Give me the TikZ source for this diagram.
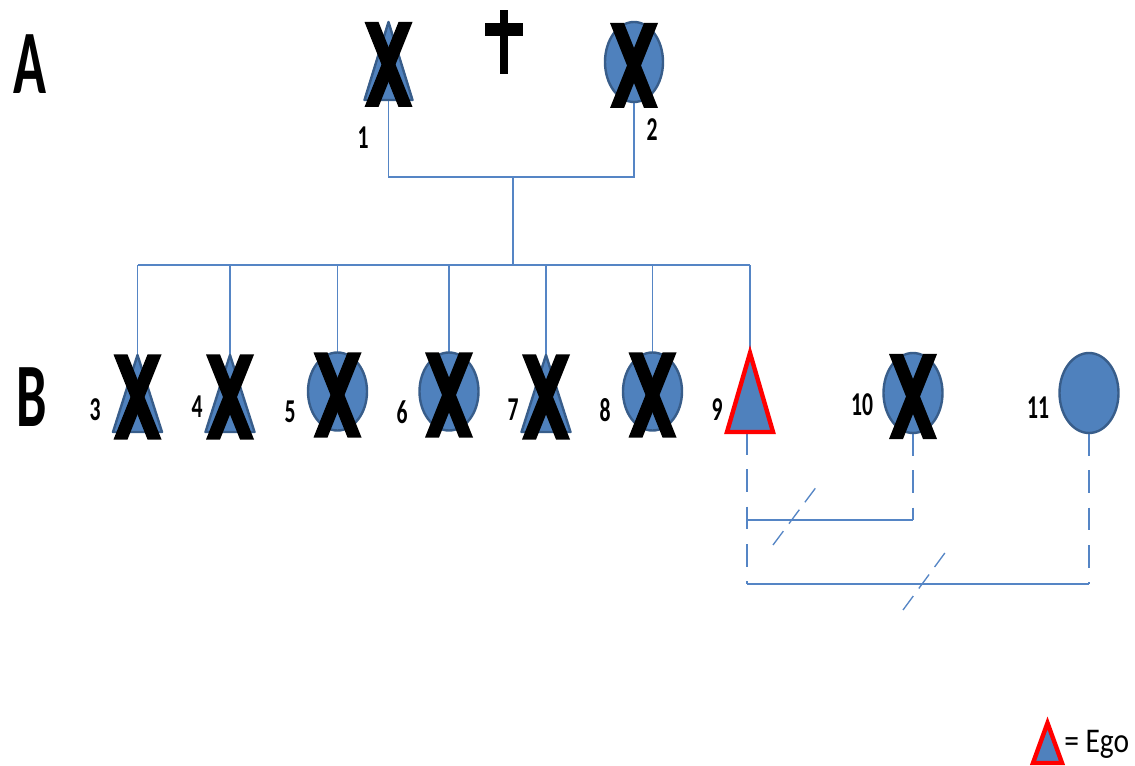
\documentclass[tikz,border=0pt]{standalone}
\usepackage{fontspec}
\setmainfont{Carlito}
\usetikzlibrary{shapes.geometric}
\definecolor{pfill}{HTML}{4F81BD}
\definecolor{pedge}{HTML}{385D8A}
\definecolor{lnk}{HTML}{5585C5}
\newcommand{\nar}[2]{\scalebox{#1}[1]{#2}}
\newcommand{\pgcross}[1]{%
  \fill[black] ([shift={(-24,-39)}]#1.center) -- ([shift={(-10,-39)}]#1.center) -- ([shift={(24,46)}]#1.center) -- ([shift={(10,46)}]#1.center) -- cycle;
  \fill[black] ([shift={(24,-39)}]#1.center) -- ([shift={(10,-39)}]#1.center) -- ([shift={(-24,46)}]#1.center) -- ([shift={(-10,46)}]#1.center) -- cycle;}
\pgfdeclarelayer{background}
\pgfsetlayers{background,main}
\begin{document}
\begin{tikzpicture}[x=0.75pt,y=-0.75pt,
  tribox/.style={rectangle, inner sep=0pt, outer sep=0pt, minimum width=36.75pt, minimum height=57.75pt},
  trishape/.style={fill=pfill, draw=pedge, line width=1.8pt, line join=round},
  egoshape/.style={fill=pfill, draw=red, line width=3.3pt, line join=miter},
  ell/.style={ellipse, fill=pfill, draw=pedge, line width=1.8pt, inner sep=0pt, outer sep=0pt, minimum width=44.25pt, minimum height=58.5pt},
  lab/.style={font=\bfseries\fontsize{25}{29}\selectfont, inner sep=0pt},
  gen/.style={font=\bfseries\fontsize{68}{72}\selectfont, inner sep=0pt},
  link/.style={draw=lnk, line width=1pt},
  dlink/.style={link, dash pattern=on 17pt off 11pt},
  slash/.style={link, dash pattern=on 13pt off 7pt}]
\useasboundingbox (0,0) rectangle (1135,766);

% persons
\node[tribox, minimum width=36pt, minimum height=58.5pt] (p1) at (388.5,61) {};
\node[ell, minimum width=43.5pt, minimum height=60pt] (p2) at (634,62) {};
\node[tribox] (p3) at (137.5,393.5) {};
\node[tribox] (p4) at (230,393.5) {};
\node[ell] (p5) at (337.5,391.5) {};
\node[ell] (p6) at (449,391.5) {};
\node[tribox] (p7) at (546,393.5) {};
\node[ell] (p8) at (652.5,391.5) {};
\node[tribox, minimum height=59.25pt, minimum width=34.5pt] (p9) at (750,392.5) {};
\node[ell, minimum height=60pt] (p10) at (913,393) {};
\node[ell, minimum height=60pt] (p11) at (1089,393) {};
\node[tribox, minimum width=21.75pt, minimum height=30pt] (pe) at (1047.5,743) {};

\foreach \n in {1,3,4,7}{
  \draw[trishape] (p\n.south west) -- (p\n.north) -- (p\n.south east) -- cycle;}
\draw[egoshape] (p9.south west) -- (p9.north) -- (p9.south east) -- cycle;
\draw[egoshape] (pe.south west) -- (pe.north) -- (pe.south east) -- cycle;

% crosses
\foreach \n in {1,2,3,4,5,6,7,8,10}{\pgcross{p\n}}

% dagger
\fill[black] (500,10) rectangle (508,74);
\fill[black] (485,23) rectangle (523,36);

% connectors
\coordinate (mar) at (513,177);
\coordinate (sib) at (513,265);
\coordinate (mA) at (747,520);
\coordinate (mB) at (747,584);
\coordinate (s1a) at (773,545);
\coordinate (s1b) at (820,482);
\coordinate (s2a) at (903,610);
\coordinate (s2b) at (950,546);
\begin{pgfonlayer}{background}
\draw[link] (p1.south) -- (p1.south |- mar) -- (p2.south |- mar) -- (p2.south);
\draw[link] (mar) -- (sib);
\draw[link] (p3.north |- sib) -- (p9.north |- sib);
\foreach \n in {3,...,9}{\draw[link] (p\n.north) -- (p\n.north |- sib);}
\draw[dlink] (p9.south -| mA) -- (mB);
\draw[dlink] (p10.south) -- (p10.south |- mA);
\draw[link] (mA) -- (p10.south |- mA);
\draw[link] (mB) -- (p11.south |- mB);
\draw[dlink] (p11.south) -- (p11.south |- mB);
\draw[slash] (s1a) -- (s1b);
\draw[slash] (s2a) -- (s2b);
\end{pgfonlayer}

% labels
\node[gen] (gA) at (30,64) {\nar{0.6}{A}};
\node[gen] (gB) at (32,397) {\nar{0.6}{B}};
\node[lab] (l1) at (363,138) {\nar{0.65}{1}};
\node[lab] (l2) at (652,130) {\nar{0.65}{2}};
\node[lab] (l3) at (95,410) {\nar{0.65}{3}};
\node[lab] (l4) at (197,407) {\nar{0.65}{4}};
\node[lab] (l5) at (290,412) {\nar{0.65}{5}};
\node[lab] (l6) at (402,412) {\nar{0.65}{6}};
\node[lab] (l7) at (513,410) {\nar{0.65}{7}};
\node[lab] (l8) at (605,410) {\nar{0.65}{8}};
\node[lab] (l9) at (717,410) {\nar{0.65}{9}};
\node[lab] (l10) at (862,405) {\nar{0.65}{10}};
\node[lab] (l11) at (1038,408) {\nar{0.65}{11}};
\node[font=\fontsize{26}{30}\selectfont, anchor=west, inner sep=0pt] (egot) at (1064,744) {\nar{0.85}{= Ego}};
\end{tikzpicture}
\end{document}
